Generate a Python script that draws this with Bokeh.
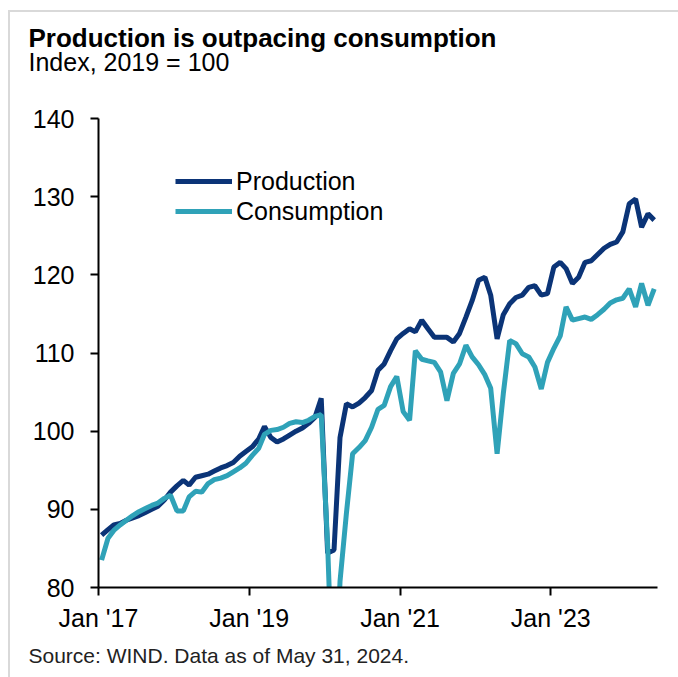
import pandas as pd
from bokeh.plotting import figure
from bokeh.models import (Range1d, FixedTicker, DatetimeTickFormatter, Legend,
                          LegendItem, Title)
from bokeh.embed import file_html
from bokeh.resources import INLINE

# ---- data (monthly index, 2019 = 100), Jan 2017 .. May 2024 ----
first_month = "2017-01-01"
n_months = 89

production = [
    86.7, 87.4, 88.0, 88.2, 88.6, 88.9, 89.2, 89.6, 90.0, 90.4, 91.2, 92.2,        # 2017
    93.0, 93.7, 93.1, 94.1, 94.3, 94.5, 94.9, 95.3, 95.6, 96.0, 96.8, 97.4,        # 2018
    98.0, 99.0, 100.6, 99.2, 98.6, 99.0, 99.5, 100.0, 100.4, 101.0, 101.8, 104.2,  # 2019
    84.4, 84.8, 99.2, 103.5, 103.1, 103.6, 104.3, 105.2, 107.8, 108.6, 110.3, 111.8,  # 2020
    112.5, 113.1, 112.7, 114.2, 113.1, 112.0, 112.0, 112.0, 111.4, 112.5, 114.6, 116.7,  # 2021
    119.3, 119.7, 117.4, 111.8, 114.9, 116.3, 117.1, 117.4, 118.4, 118.6, 117.4, 117.6,  # 2022
    121.0, 121.6, 120.8, 118.9, 119.7, 121.6, 121.8, 122.6, 123.4, 123.9, 124.2, 125.5,  # 2023
    129.1, 129.7, 126.1, 127.8, 127.0,                                              # 2024
]

consumption = [
    83.5, 86.3, 87.3, 88.0, 88.6, 89.2, 89.7, 90.1, 90.5, 90.8, 91.4, 91.8,        # 2017
    89.8, 89.8, 91.6, 92.3, 92.2, 93.3, 93.8, 94.0, 94.3, 94.8, 95.3, 95.9,        # 2018
    96.9, 97.8, 99.6, 100.1, 100.2, 100.5, 101.0, 101.2, 101.1, 101.4, 101.9, 102.1,  # 2019
    85.5, 62.0, 80.8, 89.5, 97.1, 97.9, 98.8, 100.5, 102.8, 103.3, 105.7, 107.0,   # 2020
    102.5, 101.4, 110.3, 109.2, 109.0, 108.8, 107.6, 103.9, 107.4, 108.6, 111.0, 109.5,  # 2021
    108.5, 107.2, 105.5, 97.1, 104.8, 111.6, 111.2, 109.9, 109.5, 108.2, 105.4, 108.8,  # 2022
    110.6, 112.2, 115.9, 114.2, 114.4, 114.6, 114.3, 114.9, 115.6, 116.4, 116.8, 117.0,  # 2023
    118.2, 115.9, 118.9, 116.1, 118.2,                                              # 2024
]

tick_dates = ["2017-01-01", "2019-01-01", "2021-01-01", "2023-01-01"]
y_ticks = [80, 90, 100, 110, 120, 130, 140]
series_names = ["Production", "Consumption"]

title_text = "Production is outpacing consumption"
subtitle_text = "Index, 2019 = 100"
source_text = "Source: WIND. Data as of May 31, 2024."

# months are plotted at mid-month (category-style slots)
dates = pd.date_range(first_month, periods=n_months, freq="MS") + pd.Timedelta(days=15)

PROD_COLOR = "#0b3477"
CONS_COLOR = "#2fa2b8"
FONT = "Liberation Sans"
FRAME_GRAY = "#d9d9d9"

p = figure(width=678, height=677, x_axis_type="datetime", output_backend="svg",
           toolbar_location=None,
           x_range=Range1d(pd.Timestamp(first_month), pd.Timestamp("2024-06-01")),
           y_range=Range1d(80, 140),
           min_border_left=98, min_border_right=21, min_border_top=118, min_border_bottom=90)

p.outline_line_color = None
p.xgrid.visible = False
p.ygrid.visible = False
p.background_fill_color = "white"
# transparent border area so the page background (with the thin grey box edges) shows
p.border_fill_alpha = 0
p.styles = {
    "background-color": "white",
    "background-image": f"linear-gradient({FRAME_GRAY}, {FRAME_GRAY}), "
                        f"linear-gradient({FRAME_GRAY}, {FRAME_GRAY})",
    "background-position": "8px 10px, 8px 10px",
    "background-size": "100% 2px, 2px 100%",
    "background-repeat": "no-repeat",
}

# axes
p.xaxis.ticker = FixedTicker(ticks=[pd.Timestamp(d).timestamp() * 1000 for d in tick_dates])
p.xaxis.formatter = DatetimeTickFormatter(years="%b '%y", months="%b '%y", days="%b '%y",
                                          hours="%b '%y", minutes="%b '%y")
p.yaxis.ticker = FixedTicker(ticks=y_ticks)
for ax in (p.xaxis[0], p.yaxis[0]):
    ax.axis_line_color = "black"
    ax.axis_line_width = 2
    ax.major_tick_line_color = "black"
    ax.major_tick_line_width = 2
    ax.major_tick_in = 0
    ax.major_tick_out = 8
    ax.minor_tick_line_color = None
    ax.major_label_text_font = FONT
    ax.major_label_text_font_size = "25px"
    ax.major_label_text_color = "black"
p.yaxis.major_label_standoff = 16
p.xaxis.major_label_standoff = 8

r_prod = p.line(dates, production, line_color=PROD_COLOR, line_width=5)
r_cons = p.line(dates, consumption, line_color=CONS_COLOR, line_width=5)

legend = Legend(items=[LegendItem(label=series_names[0], renderers=[r_prod]),
                       LegendItem(label=series_names[1], renderers=[r_cons])],
                location=(77, 361), glyph_width=57, glyph_height=30, label_height=30,
                label_standoff=4, spacing=0, padding=0, margin=0,
                border_line_color=None, background_fill_alpha=0,
                label_text_font=FONT, label_text_font_size="25px", label_text_color="black")
p.add_layout(legend)

# titles above: an empty spacer next to the frame, then the subtitle, then the title
p.title = None
p.add_layout(Title(text=" ", text_font_size="1px", standoff=40), "above")
p.add_layout(Title(text=subtitle_text, align="left", offset=-70, standoff=0,
                   text_font=FONT, text_font_size="25px", text_font_style="normal",
                   text_color="black"), "above")
p.add_layout(Title(text=title_text, align="left", offset=-70, standoff=-15,
                   text_font=FONT, text_font_size="26px", text_font_style="bold",
                   text_color="black"), "above")
p.add_layout(Title(text=source_text, align="left", offset=-70, standoff=14,
                   text_font=FONT, text_font_size="21px", text_font_style="normal",
                   text_color="#222222"), "below")

open("out.html", "w").write(file_html(p, INLINE))
